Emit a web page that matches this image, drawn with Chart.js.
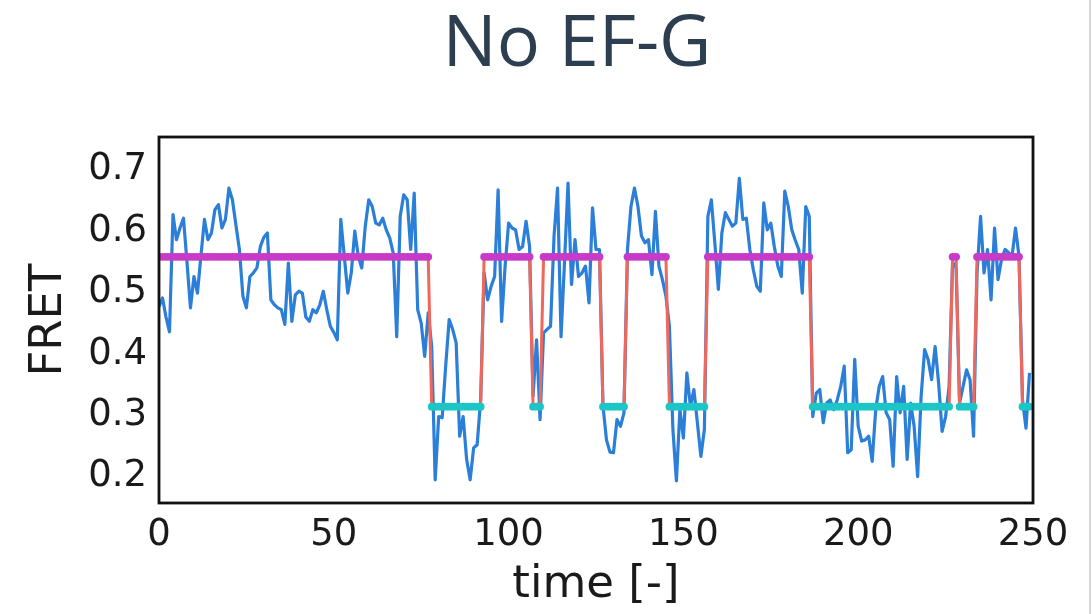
<!DOCTYPE html>
<html>
<head>
<meta charset="utf-8">
<title>No EF-G</title>
<script src="https://cdn.jsdelivr.net/npm/chart.js@4.4.1/dist/chart.umd.min.js"></script>
<style>
  html, body { margin: 0; padding: 0; background: #fff; }
  #wrap { position: relative; width: 1092px; height: 614px; }
  #edge { position: absolute; left: 1089px; top: 0; width: 2px; height: 614px; background: #d6d6d6; }
</style>
</head>
<body>
<div id="wrap">
  <canvas id="chart" width="1092" height="614"></canvas>
  <div id="edge"></div>
</div>
<script>
// FRET trace, one value per time step (0 .. 249)
const fret = [
  0.477, 0.491, 0.460, 0.436, 0.627, 0.586, 0.605, 0.621, 0.550, 0.475,
  0.526, 0.499, 0.560, 0.619, 0.586, 0.597, 0.635, 0.643, 0.605, 0.619,
  0.670, 0.651, 0.610, 0.570, 0.494, 0.475, 0.526, 0.532, 0.540, 0.575,
  0.590, 0.597, 0.488, 0.480, 0.475, 0.472, 0.448, 0.548, 0.453, 0.496,
  0.502, 0.499, 0.460, 0.453, 0.472, 0.467, 0.480, 0.502, 0.472, 0.445,
  0.435, 0.423, 0.619, 0.559, 0.499, 0.532, 0.600, 0.559, 0.540, 0.608,
  0.651, 0.640, 0.613, 0.610, 0.621, 0.602, 0.589, 0.564, 0.428, 0.624,
  0.659, 0.651, 0.570, 0.662, 0.472, 0.450, 0.396, 0.467, 0.412, 0.195,
  0.298, 0.296, 0.380, 0.456, 0.440, 0.418, 0.266, 0.298, 0.228, 0.195,
  0.247, 0.252, 0.325, 0.532, 0.488, 0.510, 0.526, 0.667, 0.453, 0.543,
  0.613, 0.605, 0.602, 0.570, 0.575, 0.616, 0.575, 0.331, 0.423, 0.293,
  0.434, 0.440, 0.445, 0.592, 0.670, 0.428, 0.550, 0.678, 0.513, 0.586,
  0.526, 0.532, 0.543, 0.483, 0.638, 0.570, 0.570, 0.315, 0.260, 0.240,
  0.239, 0.293, 0.282, 0.304, 0.570, 0.640, 0.670, 0.640, 0.592, 0.581,
  0.586, 0.529, 0.632, 0.543, 0.521, 0.494, 0.445, 0.277, 0.193, 0.309,
  0.263, 0.369, 0.315, 0.342, 0.288, 0.233, 0.277, 0.624, 0.651, 0.580,
  0.505, 0.597, 0.630, 0.619, 0.608, 0.613, 0.686, 0.619, 0.621, 0.570,
  0.537, 0.510, 0.502, 0.646, 0.602, 0.613, 0.575, 0.543, 0.526, 0.665,
  0.640, 0.602, 0.585, 0.570, 0.499, 0.640, 0.624, 0.298, 0.336, 0.342,
  0.288, 0.320, 0.325, 0.309, 0.325, 0.347, 0.380, 0.239, 0.244, 0.391,
  0.282, 0.258, 0.260, 0.266, 0.225, 0.309, 0.347, 0.363, 0.304, 0.293,
  0.217, 0.363, 0.304, 0.347, 0.228, 0.320, 0.282, 0.200, 0.331, 0.407,
  0.391, 0.358, 0.412, 0.353, 0.274, 0.298, 0.347, 0.550, 0.540, 0.320,
  0.347, 0.374, 0.358, 0.266, 0.532, 0.624, 0.532, 0.570, 0.488, 0.605,
  0.521, 0.554, 0.570, 0.565, 0.559, 0.605, 0.559, 0.325, 0.279, 0.369
];

// idealized two-state fit: levels and the time ranges spent in the high state
const highLevel = 0.558;
const lowLevel = 0.314;
const highRanges = [[0, 77], [93, 106], [110, 126], [134, 145], [157, 186], [227, 228], [234, 246]];

// axis ticks
const xTicks = [0, 50, 100, 150, 200, 250];
const yTicks = [0.2, 0.3, 0.4, 0.5, 0.6, 0.7];

document.addEventListener("DOMContentLoaded", () => {
  const isHigh = (t) => highRanges.some(([a, b]) => t >= a && t <= b);

  const tracePts = fret.map((v, t) => ({ x: t, y: v }));
  const idealPts = fret.map((v, t) => ({ x: t, y: isHigh(t) ? highLevel : lowLevel }));
  const highPts = idealPts.filter(p => isHigh(p.x));
  const lowPts = idealPts.filter(p => !isHigh(p.x));

  // black box round the plot area, drawn over the data like matplotlib spines
  const frame = {
    id: "frame",
    afterDatasetsDraw(chart) {
      const { ctx, chartArea: a } = chart;
      ctx.save();
      ctx.strokeStyle = "#111111";
      ctx.lineWidth = 2.8;
      ctx.strokeRect(a.left, a.top, a.right - a.left, a.bottom - a.top);
      ctx.restore();
    }
  };

  // figure heading (sits off-centre from the axes, as in the source figure)
  const heading = {
    id: "heading",
    afterDraw(chart) {
      const ctx = chart.ctx;
      ctx.save();
      ctx.font = '72px "Open Sans"';
      ctx.fillStyle = "#2c3e50";
      ctx.textAlign = "center";
      ctx.textBaseline = "alphabetic";
      ctx.fillText("No EF-G", 577, 66);
      ctx.restore();
    }
  };

  const tickFont = { family: "DejaVu Sans", size: 37 };
  const titleFont = { family: "DejaVu Sans", size: 45 };

  new Chart(document.getElementById("chart").getContext("2d"), {
    type: "line",
    data: {
      datasets: [
        { label: "low", data: lowPts, showLine: false, pointRadius: 3.9, pointBorderWidth: 0,
          pointBackgroundColor: "#1cc6c6", order: 1 },
        { label: "high", data: highPts, showLine: false, pointRadius: 3.9, pointBorderWidth: 0,
          pointBackgroundColor: "#c83ac8", order: 2 },
        { label: "idealized", data: idealPts, borderColor: "#f0675c", borderWidth: 3,
          pointRadius: 0, order: 3 },
        { label: "FRET", data: tracePts, borderColor: "#2b7fd8", borderWidth: 3.2,
          pointRadius: 0, borderJoinStyle: "round", order: 4 }
      ]
    },
    options: {
      responsive: false,
      animation: false,
      devicePixelRatio: 1,
      layout: { padding: { top: 137, right: 59, bottom: 0, left: 0 } },
      plugins: {
        legend: { display: false },
        tooltip: { enabled: false },
        title: { display: false }
      },
      scales: {
        x: {
          type: "linear",
          min: 0,
          max: 250,
          grid: { display: false, drawTicks: false },
          border: { display: false },
          afterBuildTicks: (scale) => { scale.ticks = xTicks.map(v => ({ value: v })); },
          afterFit: (scale) => { scale.height = 111; },
          ticks: { font: tickFont, color: "#1a1a1a", padding: 10, maxRotation: 0 },
          title: { display: true, text: "time [-]", font: titleFont, color: "#1a1a1a",
                   padding: { top: 0, bottom: 2 } }
        },
        y: {
          min: 0.1572,
          max: 0.7532,
          grid: { display: false, drawTicks: false },
          border: { display: false },
          afterBuildTicks: (scale) => { scale.ticks = yTicks.map(v => ({ value: v })); },
          afterFit: (scale) => { scale.width = 159; },
          ticks: { font: tickFont, color: "#1a1a1a", padding: 12,
                   callback: (v) => Number(v).toFixed(1) },
          title: { display: true, text: "FRET", font: titleFont, color: "#1a1a1a",
                   padding: { top: 22, bottom: 0 } }
        }
      }
    },
    plugins: [frame, heading]
  });
});
</script>
</body>
</html>
